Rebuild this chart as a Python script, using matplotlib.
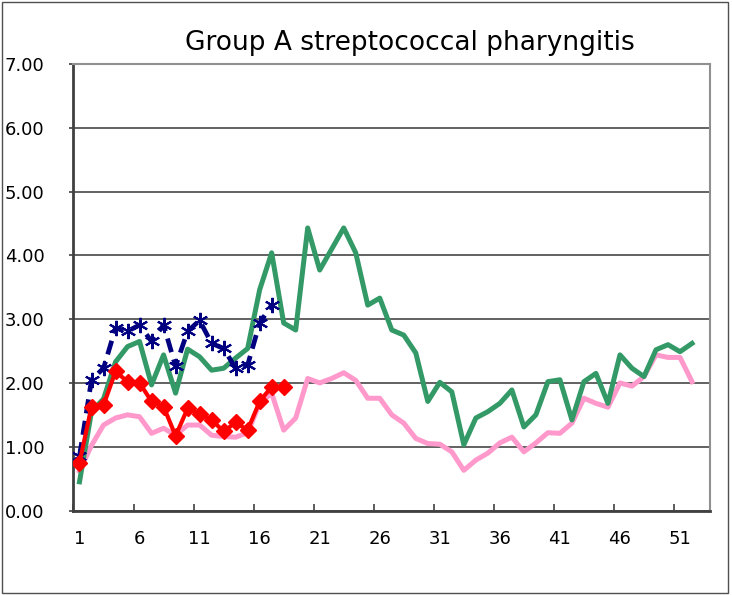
import matplotlib
matplotlib.use("Agg")
import matplotlib.pyplot as plt
from matplotlib.patches import Rectangle
import numpy as np

# weekly values
weeks = list(range(1, 53))
green = [0.45, 1.55, 1.75, 2.33, 2.57, 2.65, 1.97, 2.44, 1.84, 2.53,
         2.41, 2.20, 2.23, 2.39, 2.54, 3.46, 4.04, 2.94, 2.83, 4.43,
         3.77, 4.10, 4.43, 4.04, 3.22, 3.33, 2.83, 2.75, 2.47, 1.71,
         2.01, 1.86, 1.03, 1.45, 1.55, 1.68, 1.89, 1.31, 1.50, 2.02,
         2.05, 1.42, 2.02, 2.15, 1.68, 2.44, 2.23, 2.10, 2.52, 2.60,
         2.49, 2.62]
pink = [0.62, 1.02, 1.34, 1.45, 1.50, 1.47, 1.21, 1.29, 1.18, 1.34,
        1.34, 1.18, 1.16, 1.15, 1.22, 1.68, 1.84, 1.26, 1.45, 2.07,
        2.00, 2.07, 2.16, 2.04, 1.76, 1.76, 1.50, 1.37, 1.13, 1.05,
        1.04, 0.92, 0.63, 0.79, 0.90, 1.06, 1.15, 0.92, 1.06, 1.22,
        1.21, 1.37, 1.76, 1.68, 1.62, 2.00, 1.95, 2.10, 2.44, 2.40,
        2.40, 2.02]
blue_weeks = list(range(1, 18))
blue = [0.85, 2.05, 2.23, 2.86, 2.81, 2.91, 2.65, 2.91, 2.26, 2.81,
        2.98, 2.62, 2.54, 2.23, 2.28, 2.94, 3.22]
red_weeks = list(range(1, 19))
red = [0.75, 1.63, 1.65, 2.18, 2.02, 2.00, 1.71, 1.63, 1.17, 1.60,
       1.52, 1.42, 1.24, 1.38, 1.26, 1.71, 1.94, 1.93]

x_labels = list(range(1, 53, 5))
y_ticks = np.arange(0, 8, 1)

fig = plt.figure(figsize=(7.32, 5.95), dpi=100)
ax = fig.add_axes([0.1004, 0.142, 0.8696, 0.7504])

ax.plot(weeks, pink, color="#FF99CC", lw=3.6, zorder=2)
ax.plot(weeks, green, color="#339966", lw=3.6, zorder=3)
ax.plot(blue_weeks, blue, color="#000080", lw=3.4, linestyle=(0, (3, 1.6)),
        marker=(6, 2, 0), markersize=11, markeredgewidth=1.5, zorder=4)
ax.plot(red_weeks, red, color="#FF0000", lw=3.0, marker="D", markersize=8.5,
        zorder=5)

ax.set_xlim(0.5, 53.5)
ax.set_ylim(0, 7)
ax.set_yticks(y_ticks)
ax.set_yticklabels(["%.2f" % v for v in y_ticks])
ax.set_xticks(x_labels)
ax.set_xticklabels([str(v) for v in x_labels])
ax.set_xticks(np.arange(0.5, 54, 5), minor=True)
ax.tick_params(axis="x", which="major", length=0, pad=14, labelsize=13)
ax.tick_params(axis="x", which="minor", direction="in", length=5,
               width=1.2, color="#404040")
ax.tick_params(axis="y", direction="out", length=3, width=1.2,
               color="#404040", pad=18, labelsize=13)

ax.grid(axis="y", color="#555555", lw=1.3)
ax.set_axisbelow(True)
for side in ["top", "right"]:
    ax.spines[side].set_color("#909090")
    ax.spines[side].set_linewidth(1.5)
for side in ["left", "bottom"]:
    ax.spines[side].set_color("#404040")
    ax.spines[side].set_linewidth(2)

fig.text(0.56, 0.928, "Group A streptococcal pharyngitis", fontsize=19,
         ha="center", va="center")

fig.patches.append(Rectangle((0.003, 0.004), 0.992, 0.992, fill=False,
                             edgecolor="#505050", lw=1.0,
                             transform=fig.transFigure))

fig.savefig("out.png", dpi=100)
